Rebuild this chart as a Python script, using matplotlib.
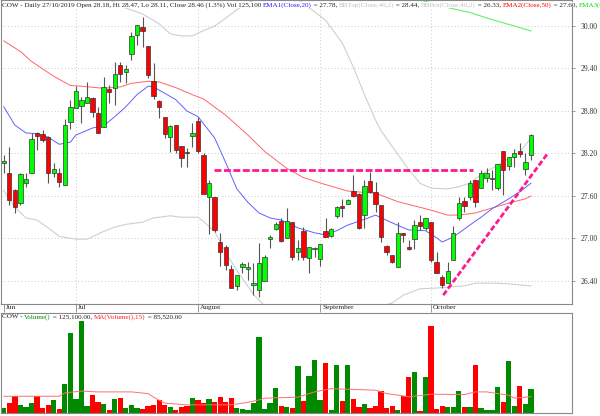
import numpy as np
import pandas as pd
import matplotlib
matplotlib.use('Agg')
import matplotlib.pyplot as plt
from matplotlib import transforms

plt.rcParams['font.family'] = ['Liberation Serif', 'DejaVu Serif']

# daily OHLC, 12 Jun - 25 Oct 2019
opens = [28.06, 27.93, 27.68, 27.50, 27.78, 27.93, 28.49, 28.48, 28.43, 27.93,
         27.93, 27.76, 28.65, 28.84, 28.87, 28.91, 28.98, 28.77, 28.57, 29.11,
         29.12, 29.45, 29.35, 29.61, 29.87, 29.99, 29.72, 29.22, 28.94, 28.72,
         28.43, 28.60, 28.31, 28.22, 28.45, 28.66, 28.18, 27.59, 27.59, 26.95,
         26.88, 26.57, 26.33, 26.60, 26.57, 26.34, 26.27, 26.40, 26.99, 27.13,
         27.25, 27.01, 27.23, 26.81, 27.11, 26.72, 26.85, 26.71, 27.11, 27.04,
         27.32, 27.46, 27.49, 27.67, 27.63, 27.33, 27.81, 27.66, 27.47, 26.89,
         26.77, 26.60, 27.08, 26.88, 26.99, 27.23, 27.15, 27.23, 26.67, 26.46,
         26.37, 26.70, 27.29, 27.53, 27.59, 27.83, 27.71, 27.85, 27.84, 27.71,
         28.24, 28.02, 28.15, 28.24, 27.98, 28.18]
highs = [28.18, 28.29, 27.70, 27.93, 27.93, 28.49, 28.50, 28.53, 28.44, 28.07,
         28.00, 28.69, 28.96, 29.15, 29.00, 29.21, 29.00, 28.86, 29.28, 29.17,
         29.49, 29.49, 29.45, 29.92, 30.01, 30.13, 29.72, 29.48, 28.96, 28.72,
         28.60, 28.60, 28.31, 28.28, 28.63, 28.72, 28.21, 27.83, 27.59, 27.08,
         26.91, 26.63, 26.49, 26.67, 26.67, 26.65, 26.94, 26.77, 27.05, 27.23,
         27.29, 27.43, 27.23, 26.98, 27.16, 26.88, 26.88, 26.92, 27.29, 27.15,
         27.46, 27.56, 27.56, 27.90, 27.64, 27.83, 27.94, 27.80, 27.47, 26.91,
         26.77, 27.23, 27.08, 26.98, 27.26, 27.33, 27.29, 27.23, 26.81, 26.49,
         26.67, 27.18, 27.59, 27.59, 27.83, 27.83, 27.97, 28.00, 27.97, 28.05,
         28.24, 28.15, 28.26, 28.35, 28.21, 28.47]
lows = [27.93, 27.47, 27.36, 27.47, 27.73, 27.93, 28.25, 28.36, 27.78, 27.87,
        27.73, 27.76, 28.55, 28.84, 28.63, 28.91, 28.72, 28.49, 28.57, 28.91,
        28.89, 29.21, 29.20, 29.52, 29.73, 29.70, 29.27, 28.97, 28.70, 28.42,
        28.22, 28.21, 28.01, 28.01, 28.29, 28.21, 27.63, 27.06, 27.09, 26.61,
        26.56, 26.30, 26.27, 26.51, 26.41, 26.20, 26.17, 26.40, 26.87, 27.12,
        26.95, 27.01, 26.70, 26.70, 26.70, 26.51, 26.74, 26.61, 27.02, 27.02,
        27.29, 27.30, 27.49, 27.59, 27.13, 27.15, 27.64, 27.37, 26.95, 26.77,
        26.65, 26.60, 26.95, 26.84, 26.85, 27.12, 27.12, 26.67, 26.51, 26.30,
        26.37, 26.70, 27.26, 27.37, 27.54, 27.45, 27.71, 27.80, 27.69, 27.69,
        27.61, 27.97, 28.01, 28.15, 27.90, 28.11]
closes = [28.09, 27.54, 27.44, 27.91, 27.84, 28.41, 28.45, 28.39, 27.93, 27.98,
          27.80, 28.60, 28.86, 29.08, 28.96, 29.00, 28.79, 28.49, 29.14, 29.07,
          29.32, 29.32, 29.39, 29.86, 30.01, 29.93, 29.31, 29.01, 28.86, 28.48,
          28.59, 28.25, 28.14, 28.21, 28.49, 28.24, 27.63, 27.78, 27.12, 26.81,
          26.63, 26.30, 26.49, 26.64, 26.60, 26.37, 26.65, 26.74, 27.02, 27.20,
          26.97, 27.25, 26.74, 26.87, 26.74, 26.88, 26.87, 26.92, 27.02, 27.13,
          27.45, 27.43, 27.54, 27.60, 27.15, 27.74, 27.66, 27.49, 27.02, 26.81,
          26.67, 27.08, 27.05, 26.85, 27.19, 27.18, 27.29, 26.70, 26.51, 26.34,
          26.54, 27.08, 27.50, 27.46, 27.78, 27.52, 27.93, 27.93, 27.85, 28.05,
          27.97, 28.15, 28.21, 28.19, 28.08, 28.46]
# volume, thousands of shares
volume_k = [26, 52, 87, 43, 31, 52, 90, 26, 43, 69,
            21, 151, 422, 73, 486, 38, 96, 56, 47, 14,
            75, 78, 26, 40, 24, 21, 38, 40, 69, 40,
            30, 17, 31, 35, 78, 69, 52, 73, 57, 82,
            57, 78, 24, 21, 17, 52, 400, 23, 52, 130,
            38, 31, 26, 248, 61, 196, 281, 69, 264, 17,
            252, 64, 252, 73, 30, 49, 26, 35, 118, 26,
            38, 17, 90, 191, 217, 12, 191, 455, 21, 35,
            31, 30, 116, 30, 31, 252, 26, 14, 17, 135,
            56, 274, 38, 142, 49, 125.1]

# indicator lines (bar number, value)
ema20_day = [0, 2, 4, 6, 8, 10, 12, 13, 16, 18, 20, 22, 24, 26, 27, 29, 31, 33, 35, 38,
             40, 42, 44, 46, 48, 50, 53, 56, 58, 60, 62, 65, 67, 70, 73, 76, 78, 79, 81,
             84, 86, 88, 91, 93, 95]
ema20 = [28.86, 28.60, 28.49, 28.48, 28.43, 28.33, 28.36, 28.46, 28.56, 28.59, 28.72,
         28.86, 29.03, 29.15, 29.14, 29.05, 28.96, 28.80, 28.72, 28.42, 28.07, 27.70,
         27.51, 27.36, 27.29, 27.26, 27.15, 27.08, 27.05, 27.11, 27.19, 27.27, 27.33,
         27.22, 27.12, 27.11, 27.01, 26.95, 27.02, 27.19, 27.30, 27.42, 27.56, 27.66, 27.78]
ema50_day = [0, 3, 5, 9, 12, 14, 18, 21, 23, 26, 28, 31, 34, 36, 40, 44, 47, 51, 54, 58,
             62, 65, 67, 68, 71, 74, 77, 80, 82, 85, 88, 91, 94, 95]
ema50 = [29.79, 29.64, 29.50, 29.29, 29.16, 29.15, 29.12, 29.14, 29.19, 29.22, 29.21,
         29.13, 29.03, 28.97, 28.74, 28.46, 28.23, 27.99, 27.86, 27.76, 27.67, 27.65,
         27.64, 27.61, 27.52, 27.46, 27.40, 27.33, 27.33, 27.36, 27.43, 27.50, 27.56, 27.60]
bbtop_day = [17, 21, 25, 28, 30, 32, 34, 35, 38, 40, 42, 44, 47, 50, 53, 58, 61, 63, 65,
             67, 68, 71, 73, 75, 77, 80, 82, 84, 86, 88, 91, 93, 95]
bbtop = [30.48, 30.28, 30.17, 30.03, 29.89, 29.86, 29.86, 29.90, 30.00, 30.11, 30.23,
         30.32, 30.45, 30.55, 30.38, 30.08, 29.76, 29.42, 29.03, 28.67, 28.52, 28.19,
         27.97, 27.78, 27.71, 27.70, 27.73, 27.78, 27.90, 27.99, 28.13, 28.22, 28.42]
bbbot_day = [0, 2, 4, 6, 8, 10, 13, 15, 18, 20, 22, 25, 27, 30, 32, 35, 36, 38, 40, 42,
             45, 47, 55, 62, 70, 72, 75, 78, 81, 83, 85, 88, 91, 95]
bbbot = [27.68, 27.44, 27.29, 27.26, 27.15, 27.03, 26.99, 26.99, 27.10, 27.16, 27.20,
         27.23, 27.29, 27.32, 27.30, 27.30, 27.24, 27.10, 26.80, 26.55, 26.21, 26.05,
         25.85, 25.90, 26.09, 26.20, 26.29, 26.30, 26.32, 26.33, 26.37, 26.37, 26.36, 26.33]
ema200_day = [70, 75, 80, 84, 88, 92, 95]
ema200 = [30.47, 30.37, 30.26, 30.19, 30.09, 30.00, 29.93]
vol_ma_day = [0, 10, 11, 14, 17, 23, 26, 27, 29, 33, 41, 44, 46, 47, 53, 56, 59, 64, 67,
              69, 71, 73, 77, 83, 85, 87, 89, 91, 92, 95]
vol_ma_k = [88, 88, 106, 115, 111, 111, 102, 83, 52, 43, 43, 56, 69, 78, 83, 111, 128,
            123, 120, 102, 94, 85, 99, 97, 111, 111, 102, 94, 78, 85.52]

# hand drawn trend lines (bar number, price)
resist_x = [37.8, 84.6]
resist_y = [27.96, 27.96]
support_x = [79.2, 98.1]
support_y = [26.20, 28.21]

price_ticks = [26.40, 27.00, 27.60, 28.20, 28.80, 29.40, 30.00]

dates = pd.bdate_range('2019-06-12', '2019-10-25')
dates = dates[~dates.isin(pd.to_datetime(['2019-07-04', '2019-09-02']))]
month_names = {6: 'Jun', 7: 'Jul', 8: 'August', 9: 'September', 10: 'October'}

o = np.array(opens); h = np.array(highs); l = np.array(lows); c = np.array(closes)
x = np.arange(len(c))
up = c >= o
dark = '#222222'

fig = plt.figure(figsize=(6, 4.16), dpi=100)
ax = fig.add_axes([1/600, 1-304/416, 571/600, 304/416])
axv = fig.add_axes([1/600, 3/416, 571/600, 100/416])

# price panel
ax.set_xlim(-0.5, 102.4)
ax.set_ylim(26.075, 30.367)
for p in price_ticks:
    ax.axhline(p, color='#b8b8b8', lw=0.6, ls=(0, (1, 3)), zorder=0)
month_start = [i for i in range(len(dates)) if i == 0 or dates[i].month != dates[i-1].month]
for m in month_start[1:]:
    ax.axvline(m, color='#b8b8b8', lw=0.6, ls=(0, (1, 3)), zorder=0)

ax.plot(bbtop_day, bbtop, color='#cfcfcf', lw=0.8, zorder=1)
ax.plot(bbbot_day, bbbot, color='#cfcfcf', lw=0.8, zorder=1)
ax.plot(ema50_day, ema50, color='#ff6666', lw=0.7, zorder=1)
ax.plot(ema20_day, ema20, color='#6060ff', lw=0.7, zorder=1)
ax.plot(ema200_day, ema200, color='#66ee66', lw=0.8, zorder=1)

ax.vlines(x, l, h, color='#555555', lw=0.8, zorder=2)
body_lo = np.minimum(o, c)
body_h = np.maximum(np.abs(c - o), 0.012)
ax.bar(x, body_h, bottom=body_lo, width=0.78, color=np.where(up, '#00ff00', '#ff0000'),
       edgecolor='#333333', linewidth=0.5, zorder=3)

ax.plot(resist_x, resist_y, color='#ff1a8c', lw=2.0, dashes=(2.5, 0.9), zorder=4)
ax.plot(support_x, support_y, color='#ff1a8c', lw=2.0, dashes=(2.0, 0.9), zorder=4)

ax.yaxis.tick_right()
ax.set_yticks(price_ticks)
ax.set_yticklabels(['%.2f' % p for p in price_ticks])
ax.tick_params(axis='y', length=2, width=0.6, color='#888888', labelsize=5.5,
               labelcolor='#333333', pad=4)
ax.set_xticks(month_start)
ax.tick_params(axis='x', direction='out', length=6, width=0.6, color='#888888',
               labelbottom=False)
lab_tr = transforms.offset_copy(transforms.blended_transform_factory(ax.transData, ax.transAxes),
                                fig=fig, x=2, y=-1, units='dots')
for m in month_start:
    ax.text(m, 0, month_names[dates[m].month], transform=lab_tr, ha='left', va='top',
            fontsize=5.3, color=dark)
for s in ax.spines.values():
    s.set_color('#888888')
    s.set_linewidth(0.8)

# volume panel
axv.set_xlim(-0.5, 102.4)
axv.set_ylim(0, 526)
axv.bar(x, volume_k, width=0.95, color=np.where(up, '#008a00', '#ff0000'), linewidth=0)
axv.plot(vol_ma_day, vol_ma_k, color='#ff7070', lw=0.7)
axv.set_xticks([]); axv.set_yticks([])
for s in axv.spines.values():
    s.set_color('#888888')
    s.set_linewidth(0.8)

def color_text(x0, y0, parts, size=5.1):
    r = fig.canvas.get_renderer()
    xx = x0
    for s, col in parts:
        t = fig.text(xx, y0, s, color=col, fontsize=size, va='top', ha='left',
                     bbox=dict(facecolor='white', edgecolor='none', pad=0.3))
        bb = t.get_window_extent(renderer=r)
        xx += bb.width / fig.bbox.width

color_text(2/600, 1 - 2/416, [
    ('COW - Daily 27/10/2019 Open %.2f, Hi %.2f, Lo %.2f, Close %.2f (1.3%%) Vol %s '
     % (o[-1], h[-1], l[-1], c[-1], format(int(volume_k[-1] * 1000), ',')), dark),
    ('EMA1(Close,20)', '#2020ff'), (' = %.2f, ' % ema20[-1], dark),
    ('BBTop(Close,40,2)', '#c0c0c0'), (' = 28.44, ', dark),
    ('BBBot(Close,40,2)', '#c0c0c0'), (' = %.2f, ' % bbbot[-1], dark),
    ('EMA2(Close,50)', '#ff0000'), (' = %.2f, ' % ema50[-1], dark),
    ('EMA3(C', '#00e000'),
])
color_text(2/600, 1 - 314/416, [
    ('COW - ', dark), ('Volume()', '#009000'),
    (' = %s.00, ' % format(int(volume_k[-1] * 1000), ','), dark),
    ('MA(Volume(),15)', '#ff2020'), (' = 85,520.00', dark),
])

fig.savefig('out.png', dpi=100)
